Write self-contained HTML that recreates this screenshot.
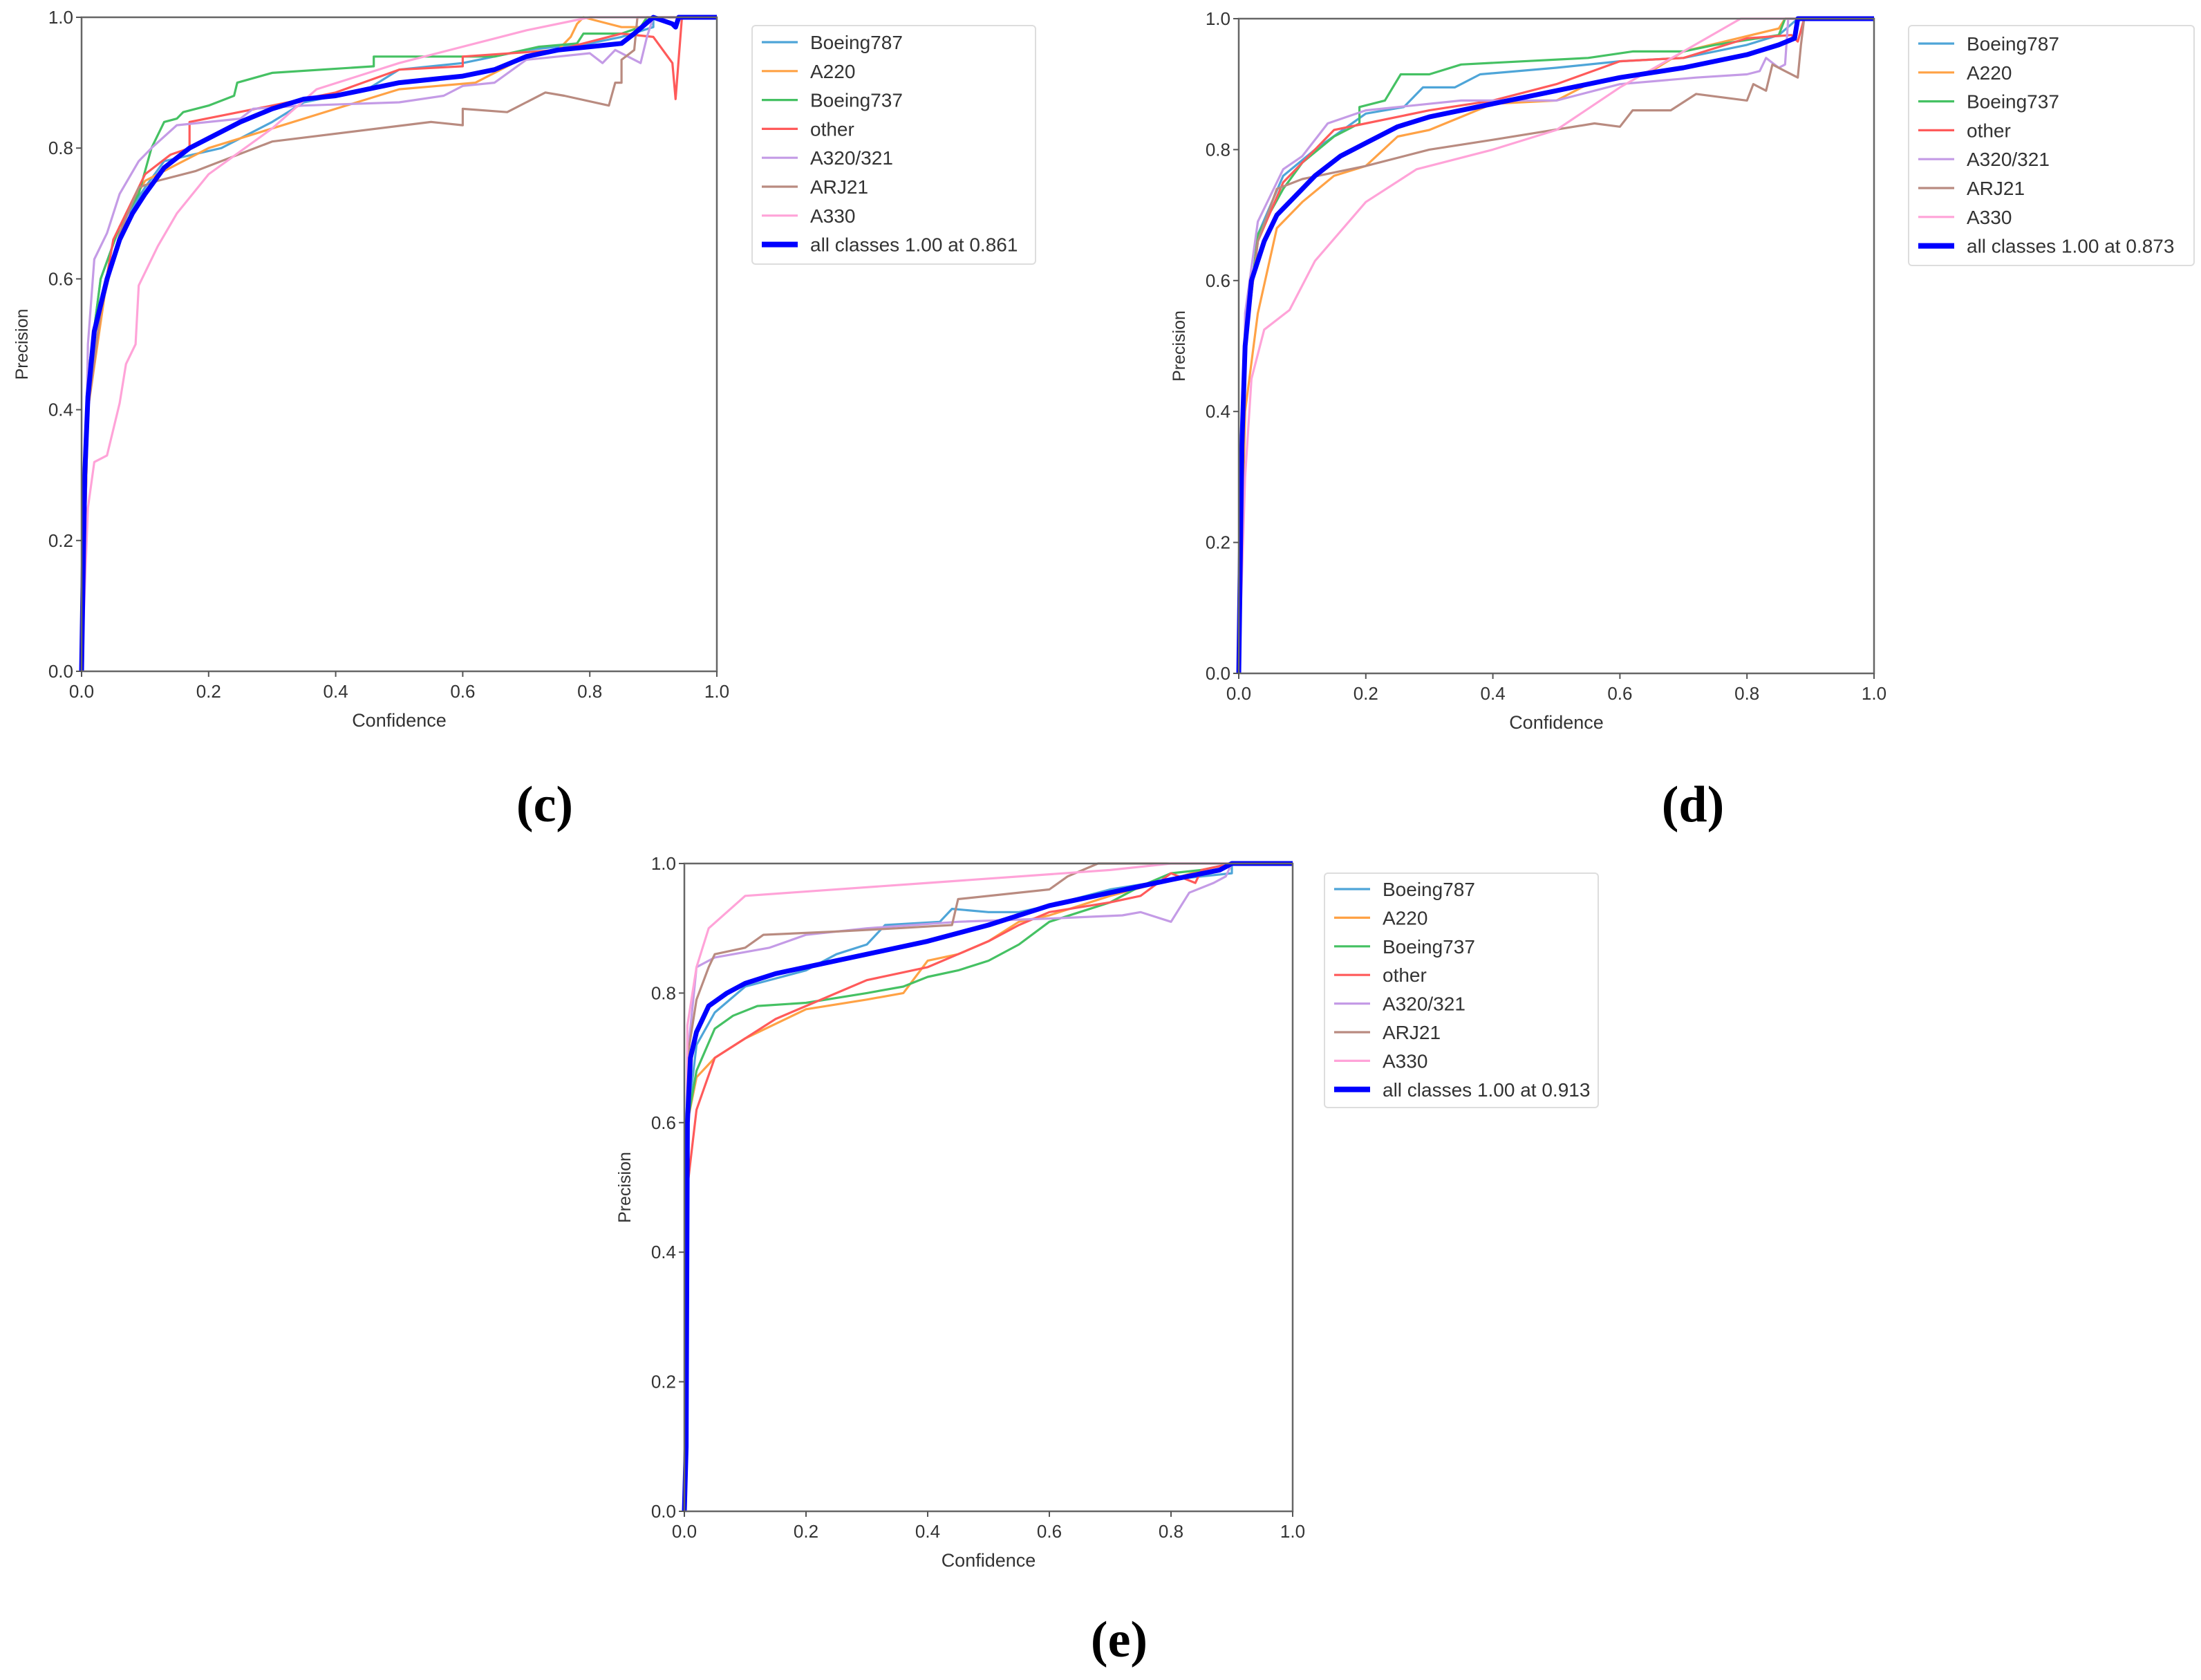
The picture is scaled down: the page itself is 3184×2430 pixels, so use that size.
<!DOCTYPE html>
<html><head><meta charset="utf-8"><style>
html,body{margin:0;padding:0;background:#fff;}
svg{display:block;}
</style></head><body>
<svg id="fig" width="3184" height="2430" viewBox="0 0 3184 2430" xmlns="http://www.w3.org/2000/svg"></svg>
<script>
// ---------- data ----------
const seriesNames = ["Boeing787","A220","Boeing737","other","A320/321","ARJ21","A330"];
const seriesColors = ["#4ea5d8","#ffa245","#45c163","#ff5a5a","#c49be6","#b98b80","#ffa3d8"];
const tickLabels = ["0.0","0.2","0.4","0.6","0.8","1.0"];
const tickValues = [0,0.2,0.4,0.6,0.8,1.0];

// chart (c)
const cX_b787=[0,0.01,0.03,0.06,0.1,0.13,0.22,0.3,0.35,0.45,0.5,0.6,0.7,0.8,0.85,0.9,0.9,1];
const cY_b787=[0,0.45,0.6,0.68,0.74,0.78,0.8,0.84,0.87,0.89,0.92,0.93,0.95,0.96,0.97,0.985,1,1];
const cX_a220=[0,0.01,0.04,0.07,0.1,0.2,0.3,0.4,0.5,0.62,0.7,0.75,0.77,0.78,0.79,0.85,0.88,0.89,1];
const cY_a220=[0,0.4,0.6,0.7,0.75,0.8,0.83,0.86,0.89,0.9,0.94,0.95,0.97,0.99,1,0.985,0.985,1,1];
const cX_b737=[0,0.01,0.03,0.06,0.09,0.11,0.13,0.15,0.16,0.2,0.24,0.245,0.3,0.46,0.46,0.65,0.72,0.78,0.79,0.85,0.88,0.89,1];
const cY_b737=[0,0.45,0.6,0.68,0.73,0.8,0.84,0.845,0.855,0.865,0.88,0.9,0.915,0.925,0.94,0.94,0.955,0.96,0.975,0.975,0.985,1,1];
const cX_other=[0,0.01,0.03,0.05,0.08,0.1,0.14,0.17,0.17,0.3,0.4,0.5,0.6,0.6,0.75,0.85,0.9,0.93,0.935,0.945,1];
const cY_other=[0,0.4,0.55,0.66,0.72,0.76,0.79,0.8,0.84,0.865,0.885,0.92,0.925,0.94,0.95,0.975,0.97,0.93,0.875,1,1];
const cX_a320=[0,0.01,0.02,0.04,0.06,0.09,0.11,0.15,0.25,0.27,0.35,0.5,0.57,0.6,0.65,0.7,0.75,0.8,0.82,0.84,0.88,0.89,0.9,1];
const cY_a320=[0,0.5,0.63,0.67,0.73,0.78,0.8,0.835,0.845,0.86,0.865,0.87,0.88,0.895,0.9,0.935,0.94,0.945,0.93,0.95,0.93,0.97,1,1];
const cX_arj21=[0,0.01,0.03,0.06,0.09,0.12,0.18,0.3,0.55,0.6,0.6,0.67,0.73,0.76,0.83,0.84,0.85,0.85,0.87,0.875,1];
const cY_arj21=[0,0.4,0.55,0.67,0.74,0.75,0.765,0.81,0.84,0.835,0.86,0.855,0.885,0.88,0.865,0.9,0.9,0.935,0.95,1,1];
const cX_a330=[0,0.01,0.02,0.04,0.06,0.07,0.085,0.09,0.12,0.15,0.2,0.3,0.37,0.5,0.7,0.8,1];
const cY_a330=[0,0.25,0.32,0.33,0.41,0.47,0.5,0.59,0.65,0.7,0.76,0.83,0.89,0.93,0.98,1,1];
const cX_all=[0,0.005,0.01,0.02,0.04,0.06,0.08,0.1,0.13,0.17,0.2,0.25,0.3,0.35,0.4,0.45,0.5,0.6,0.65,0.7,0.75,0.8,0.85,0.87,0.9,0.93,0.935,0.94,1];
const cY_all=[0,0.3,0.42,0.52,0.6,0.66,0.7,0.73,0.77,0.8,0.815,0.84,0.86,0.875,0.88,0.89,0.9,0.91,0.92,0.94,0.95,0.955,0.96,0.975,1,0.99,0.985,1,1];

// chart (d)
const dX_b787=[0,0.01,0.03,0.07,0.12,0.2,0.26,0.29,0.34,0.38,0.5,0.6,0.7,0.8,0.85,0.88,1];
const dY_b787=[0,0.5,0.67,0.76,0.8,0.855,0.865,0.895,0.895,0.915,0.925,0.935,0.94,0.96,0.975,1,1];
const dX_a220=[0,0.01,0.03,0.06,0.1,0.15,0.2,0.25,0.3,0.35,0.4,0.5,0.55,0.65,0.7,0.85,0.86,1];
const dY_a220=[0,0.4,0.55,0.68,0.72,0.76,0.775,0.82,0.83,0.85,0.87,0.875,0.9,0.92,0.95,0.985,1,1];
const dX_b737=[0,0.01,0.03,0.07,0.1,0.15,0.19,0.19,0.23,0.255,0.3,0.35,0.55,0.62,0.7,0.75,0.85,0.86,1];
const dY_b737=[0,0.5,0.67,0.74,0.78,0.82,0.84,0.865,0.875,0.915,0.915,0.93,0.94,0.95,0.95,0.96,0.975,1,1];
const dX_other=[0,0.01,0.03,0.07,0.1,0.15,0.2,0.3,0.4,0.5,0.6,0.7,0.8,0.87,0.88,0.89,1];
const dY_other=[0,0.5,0.66,0.75,0.78,0.83,0.84,0.86,0.875,0.9,0.935,0.94,0.97,0.975,0.965,1,1];
const dX_a320=[0,0.01,0.03,0.07,0.1,0.14,0.2,0.35,0.5,0.6,0.72,0.8,0.82,0.83,0.85,0.86,0.865,1];
const dY_a320=[0,0.55,0.69,0.77,0.79,0.84,0.86,0.875,0.875,0.9,0.91,0.915,0.92,0.94,0.925,0.93,1,1];
const dX_arj21=[0,0.01,0.03,0.06,0.1,0.2,0.3,0.4,0.56,0.6,0.62,0.68,0.72,0.8,0.81,0.83,0.84,0.86,0.88,0.885,0.89,1];
const dY_arj21=[0,0.5,0.66,0.74,0.755,0.775,0.8,0.815,0.84,0.835,0.86,0.86,0.885,0.875,0.9,0.89,0.93,0.92,0.91,0.96,1,1];
const dX_a330=[0,0.01,0.02,0.04,0.08,0.12,0.2,0.28,0.4,0.5,0.6,0.7,0.79,1];
const dY_a330=[0,0.3,0.45,0.525,0.555,0.63,0.72,0.77,0.8,0.83,0.895,0.95,1,1];
const dX_all=[0,0.005,0.01,0.02,0.04,0.06,0.08,0.12,0.16,0.2,0.25,0.3,0.4,0.5,0.6,0.7,0.8,0.85,0.875,0.88,1];
const dY_all=[0,0.35,0.5,0.6,0.66,0.7,0.72,0.76,0.79,0.81,0.835,0.85,0.87,0.89,0.91,0.925,0.945,0.96,0.97,1,1];

// chart (e)
const eX_b787=[0,0.005,0.02,0.05,0.1,0.2,0.25,0.3,0.33,0.42,0.44,0.5,0.55,0.6,0.7,0.8,0.85,0.9,0.9,1];
const eY_b787=[0,0.6,0.72,0.77,0.81,0.835,0.86,0.875,0.905,0.91,0.93,0.925,0.925,0.935,0.96,0.975,0.98,0.985,1,1];
const eX_a220=[0,0.005,0.02,0.05,0.1,0.2,0.3,0.36,0.4,0.45,0.5,0.55,0.6,0.7,0.8,0.85,0.9,1];
const eY_a220=[0,0.6,0.67,0.7,0.73,0.775,0.79,0.8,0.85,0.86,0.88,0.91,0.92,0.95,0.975,0.99,1,1];
const eX_b737=[0,0.005,0.02,0.05,0.08,0.12,0.2,0.3,0.36,0.4,0.45,0.5,0.55,0.6,0.7,0.75,0.8,0.85,0.9,1];
const eY_b737=[0,0.6,0.68,0.745,0.765,0.78,0.785,0.8,0.81,0.825,0.835,0.85,0.875,0.91,0.94,0.965,0.985,0.99,1,1];
const eX_other=[0,0.005,0.02,0.05,0.1,0.15,0.2,0.25,0.3,0.35,0.4,0.45,0.5,0.55,0.6,0.7,0.75,0.8,0.84,0.85,0.9,1];
const eY_other=[0,0.5,0.62,0.7,0.73,0.76,0.78,0.8,0.82,0.83,0.84,0.86,0.88,0.905,0.925,0.94,0.95,0.985,0.97,0.99,1,1];
const eX_a320=[0,0.005,0.02,0.05,0.14,0.2,0.3,0.45,0.6,0.72,0.75,0.8,0.83,0.87,0.89,0.9,1];
const eY_a320=[0,0.7,0.84,0.855,0.87,0.89,0.9,0.91,0.915,0.92,0.925,0.91,0.955,0.97,0.98,1,1];
const eX_arj21=[0,0.005,0.02,0.04,0.05,0.1,0.13,0.25,0.35,0.44,0.45,0.6,0.63,0.68,1];
const eY_arj21=[0,0.7,0.79,0.84,0.86,0.87,0.89,0.895,0.9,0.905,0.945,0.96,0.98,1,1];
const eX_a330=[0,0.005,0.02,0.04,0.1,0.4,0.7,0.8,1];
const eY_a330=[0,0.75,0.84,0.9,0.95,0.97,0.99,1,1];
const eX_all=[0,0.003,0.005,0.01,0.02,0.04,0.07,0.1,0.15,0.2,0.3,0.4,0.5,0.6,0.7,0.8,0.88,0.9,1];
const eY_all=[0,0.1,0.6,0.7,0.74,0.78,0.8,0.815,0.83,0.84,0.86,0.88,0.905,0.935,0.955,0.975,0.99,1,1];

// ---------- rendering ----------
const NS="http://www.w3.org/2000/svg";
const svg=document.getElementById("fig");
function mk(tag,attrs,parent){const e=document.createElementNS(NS,tag);for(const k in attrs)e.setAttribute(k,attrs[k]);(parent||svg).appendChild(e);return e;}

function drawChart(id,box,leg,xs,ys,allX,allY,allLabel,caption){
  const g=mk("g",{});
  
  
  const sx=v=>box.x0+v*(box.x1-box.x0);
  const sy=v=>box.yb-v*(box.yb-box.yt);
  for(let s=0;s<xs.length;s++){
    const d=xs[s].map((v,i)=>(i?"L":"M")+sx(v).toFixed(1)+","+sy(ys[s][i]).toFixed(1)).join("");
    const p=mk("path",{d:d,fill:"none",stroke:seriesColors[s],"stroke-width":3.2,"stroke-linejoin":"round"},g);
    
    
  }
  const da=allX.map((v,i)=>(i?"L":"M")+sx(v).toFixed(1)+","+sy(allY[i]).toFixed(1)).join("");
  const pa=mk("path",{d:da,fill:"none",stroke:"#0000ff","stroke-width":7,"stroke-linejoin":"round"},g);
  
  
  const fr=mk("rect",{x:box.x0,y:box.yt,width:box.x1-box.x0,height:box.yb-box.yt,fill:"none",stroke:"#666","stroke-width":2.5},g);
  
  
  for(let i=0;i<tickValues.length;i++){
    const X=sx(tickValues[i]),Y=sy(tickValues[i]);
    mk("line",{x1:X,y1:box.yb,x2:X,y2:box.yb+8,stroke:"#555","stroke-width":2},g);
    mk("line",{x1:box.x0-8,y1:Y,x2:box.x0,y2:Y,stroke:"#555","stroke-width":2},g);
    const tx=mk("text",{x:X,y:box.yb+38,"text-anchor":"middle","font-size":26,fill:"#333","font-family":"Liberation Sans, sans-serif"},g);
    tx.textContent=tickLabels[i];
    
    
    const ty=mk("text",{x:box.x0-12,y:Y+9,"text-anchor":"end","font-size":26,fill:"#333","font-family":"Liberation Sans, sans-serif"},g);
    ty.textContent=tickLabels[i];
    
    
  }
  const xt=mk("text",{x:(box.x0+box.x1)/2,y:box.yb+80,"text-anchor":"middle","font-size":27,fill:"#333","font-family":"Liberation Sans, sans-serif"},g);
  xt.textContent="Confidence";
  
  
  const yc=(box.yt+box.yb)/2, ytx=box.x0-78;
  const yt=mk("text",{x:ytx,y:yc,"text-anchor":"middle","font-size":25,fill:"#333","font-family":"Liberation Sans, sans-serif",transform:"rotate(-90 "+ytx+" "+yc+")"},g);
  yt.textContent="Precision";
  
  
  const lg=mk("g",{},g);
  
  
  mk("rect",{x:leg.x,y:leg.y,width:leg.w,height:leg.h,rx:5,fill:"#fff",stroke:"#ddd","stroke-width":2},lg);
  const labels=seriesNames.concat([allLabel]);
  for(let i=0;i<8;i++){
    const ey=leg.y+leg.first+i*leg.step;
    const ln=mk("line",{x1:leg.x+14,y1:ey,x2:leg.x+66,y2:ey,stroke:i<7?seriesColors[i]:"#0000ff","stroke-width":i<7?3.2:8},lg);
    
    
    const t=mk("text",{x:leg.x+84,y:ey+10,"font-size":28,fill:"#333","font-family":"Liberation Sans, sans-serif"},lg);
    t.textContent=labels[i];
    
    
  }
  const cp=mk("text",{x:caption.x,y:caption.y,"text-anchor":"middle","font-size":74,"font-weight":"bold",fill:"#000","font-family":"Liberation Serif, serif"},g);
  cp.textContent=caption.t;
  
  
}

drawChart("chart-c",{x0:118,x1:1037,yt:25,yb:971},{x:1088,y:37,w:410,h:345,first:24,step:41.8},
  [cX_b787,cX_a220,cX_b737,cX_other,cX_a320,cX_arj21,cX_a330],
  [cY_b787,cY_a220,cY_b737,cY_other,cY_a320,cY_arj21,cY_a330],
  cX_all,cY_all,"all classes 1.00 at 0.861",{x:788,y:1188,t:"(c)"});
drawChart("chart-d",{x0:1792,x1:2711,yt:27,yb:974},{x:2761,y:37,w:413,h:347,first:26,step:41.8},
  [dX_b787,dX_a220,dX_b737,dX_other,dX_a320,dX_arj21,dX_a330],
  [dY_b787,dY_a220,dY_b737,dY_other,dY_a320,dY_arj21,dY_a330],
  dX_all,dY_all,"all classes 1.00 at 0.873",{x:2449,y:1188,t:"(d)"});
drawChart("chart-e",{x0:990,x1:1870,yt:1249,yb:2186},{x:1916,y:1263,w:396,h:339,first:23,step:41.4},
  [eX_b787,eX_a220,eX_b737,eX_other,eX_a320,eX_arj21,eX_a330],
  [eY_b787,eY_a220,eY_b737,eY_other,eY_a320,eY_arj21,eY_a330],
  eX_all,eY_all,"all classes 1.00 at 0.913",{x:1619,y:2396,t:"(e)"});
</script>
</body></html>
